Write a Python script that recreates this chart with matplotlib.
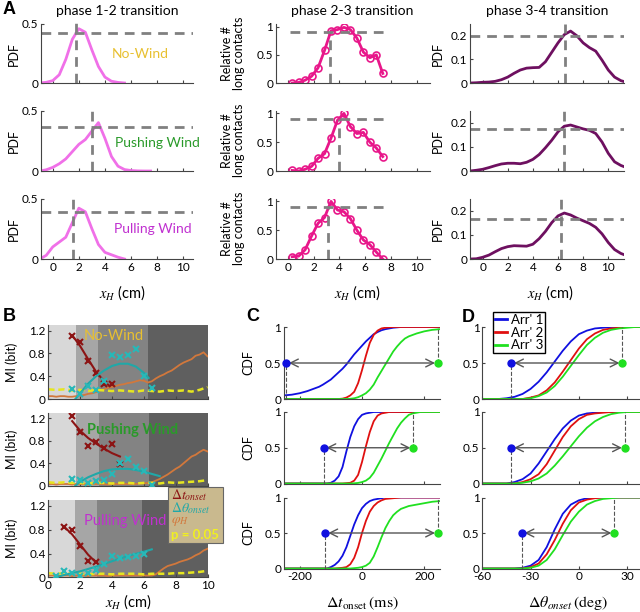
import numpy as np
import matplotlib
matplotlib.use('Agg')
import matplotlib.pyplot as plt
from matplotlib.lines import Line2D
from matplotlib.patches import Rectangle

plt.rcParams['font.family'] = ['Lato', 'DejaVu Sans']
plt.rcParams['mathtext.fontset'] = 'stix'
plt.rcParams['xtick.direction'] = 'in'
plt.rcParams['ytick.direction'] = 'in'
plt.rcParams['xtick.major.size'] = 2.5
plt.rcParams['ytick.major.size'] = 2.5
plt.rcParams['font.size'] = 8.5

# ---------------- panel A data ----------------
conditions = ["No-Wind", "Pushing Wind", "Pulling Wind"]
cond_colors = ["#e8c030", "#2a9a2a", "#c030d0"]

# phase 1-2 PDFs
p12_x = [[-1, -0.5, 0, 0.5, 1, 1.5, 2, 2.5, 3, 3.5, 4, 4.5, 5, 5.5],
         [-1, -0.5, 0, 0.5, 1, 1.5, 2, 2.5, 3, 3.5, 4, 4.5, 5, 5.5, 6, 6.5, 7, 7.5],
         [-1, -0.5, 0, 0.5, 1, 1.5, 2, 2.5, 3, 3.5, 4, 4.5, 5, 5.5]]
p12_y = [[0.0, 0.006, 0.02, 0.07, 0.2, 0.37, 0.46, 0.43, 0.28, 0.14, 0.05, 0.015, 0.005, 0.0],
         [0.0, 0.01, 0.03, 0.06, 0.1, 0.16, 0.22, 0.26, 0.33, 0.40, 0.27, 0.12, 0.04, 0.012, 0.004, 0.001, 0.0, 0.0],
         [0.0, 0.03, 0.1, 0.14, 0.18, 0.3, 0.42, 0.39, 0.25, 0.12, 0.055, 0.035, 0.015, 0.0]]
p12_vline = [1.8, 3.0, 1.55]
p12_hline = [0.42, 0.36, 0.39]

# phase 2-3 relative number of long contacts
p23_x = [0.35, 0.85, 1.35, 1.85, 2.35, 2.85, 3.35, 3.85, 4.35, 4.85, 5.35, 5.85, 6.35, 6.85, 7.35]
p23_y = [[0.0, 0.01, 0.05, 0.12, 0.27, 0.58, 0.93, 0.95, 0.99, 0.95, 0.8, 0.55, 0.45, 0.5, 0.17],
         [0.01, 0.0, 0.03, 0.08, 0.22, 0.3, 0.57, 0.88, 1.0, 0.77, 0.65, 0.67, 0.5, 0.4, 0.25],
         [0.04, 0.05, 0.16, 0.4, 0.62, 0.72, 1.0, 0.85, 0.82, 0.7, 0.5, 0.33, 0.25, 0.12, 0.0]]
p23_vline = [3.27, 4.0, 3.1]
p23_hline = 0.9

# phase 3-4 PDFs
p34_x = [-1, -0.5, 0, 0.5, 1, 1.5, 2, 2.5, 3, 3.5, 4, 4.5, 5, 5.5, 6, 6.5,
         7, 7.5, 8, 8.5, 9, 9.5, 10, 10.5, 11, 11.25]
p34_y = [[0.0, 0.001, 0.003, 0.004, 0.007, 0.014, 0.025, 0.041, 0.055, 0.063, 0.065, 0.066, 0.09,
          0.13, 0.17, 0.205, 0.22, 0.2, 0.17, 0.15, 0.135, 0.097, 0.055, 0.025, 0.01, 0.006],
         [0.0, 0.003, 0.007, 0.014, 0.022, 0.029, 0.032, 0.032, 0.03, 0.036, 0.048, 0.068, 0.096,
          0.127, 0.162, 0.185, 0.19, 0.182, 0.174, 0.168, 0.155, 0.12, 0.073, 0.038, 0.023, 0.018],
         [0.0, 0.001, 0.007, 0.016, 0.03, 0.043, 0.051, 0.055, 0.054, 0.053, 0.061, 0.084, 0.114,
          0.15, 0.178, 0.19, 0.182, 0.169, 0.158, 0.147, 0.131, 0.104, 0.068, 0.039, 0.023, 0.018]]
p34_vline = [6.55, 6.47, 6.2]
p34_hline = [0.2, 0.175, 0.165]

# ---------------- panel B data ----------------
band_edges = [[0, 1.75, 3.15, 6.25, 10], [0, 1.75, 3.2, 6.3, 10], [0, 1.7, 3.05, 5.9, 10]]
band_colors = ["#d8d8d8", "#a6a6a6", "#838383", "#5f5f5f"]

dt_x = [[1.5, 2, 2.5, 3, 3.5, 4], [1.5, 2, 2.5, 3, 3.5, 4, 4.5], [1, 1.5, 2, 2.5, 3]]
dt_y = [[1.1, 1.0, 0.67, 0.45, 0.26, 0.26], [1.25, 0.95, 0.7, 0.78, 0.68, 0.75, 0.38],
        [0.84, 0.8, 0.53, 0.27, 0.25]]
dt_fit_x = [[1.5, 2, 2.5, 3, 3.5, 3.8], [1.5, 2, 2.5, 3, 3.5, 4, 4.5], [1, 1.5, 2, 2.5, 3]]
dt_fit_y = [[1.12, 0.93, 0.7, 0.48, 0.31, 0.24], [1.15, 0.98, 0.85, 0.75, 0.66, 0.58, 0.52],
            [0.85, 0.72, 0.55, 0.38, 0.25]]

dth_x = [[1.5, 2, 2.5, 3, 3.5, 4, 4.5, 5, 5.5, 6, 6.5],
         [1.5, 2, 2.5, 3, 3.5, 4, 4.5, 5, 5.5, 6, 6.5],
         [0.5, 1, 1.5, 2, 2.5, 3, 3.5, 4, 4.5, 5, 5.5, 6]]
dth_y = [[0.17, 0.09, 0.23, 0.15, 0.31, 0.77, 0.74, 0.78, 0.87, 0.4, 0.2],
         [0.12, 0.1, 0.05, 0.08, 0.1, 0.2, 0.4, 0.48, 0.33, 0.27, 0.02],
         [0.02, 0.1, 0.07, 0.03, 0.08, 0.12, 0.22, 0.35, 0.32, 0.34, 0.35, 0.4]]
dth_fit_x = [[1.7, 2, 2.5, 3, 3.5, 4, 4.5, 5, 5.5, 6, 6.3],
             [1.7, 2, 2.5, 3, 3.5, 4, 4.5, 5, 5.5, 6, 6.5, 7],
             [0.5, 1, 2, 3, 4, 5, 6, 6.5]]
dth_fit_y = [[0.0, 0.1, 0.27, 0.4, 0.5, 0.58, 0.62, 0.62, 0.57, 0.46, 0.37],
             [0.0, 0.07, 0.15, 0.21, 0.26, 0.29, 0.3, 0.3, 0.28, 0.25, 0.21, 0.17],
             [0.0, 0.04, 0.1, 0.18, 0.27, 0.36, 0.43, 0.47]]

phi_x = [0, 0.25, 0.5, 0.75, 1, 1.25, 1.5, 1.75, 2, 2.25, 2.5, 2.75, 3, 3.25, 3.5, 3.75, 4,
         4.25, 4.5, 4.75, 5, 5.25, 5.5, 5.75, 6, 6.25, 6.5, 6.75, 7, 7.25, 7.5, 7.75, 8,
         8.25, 8.5, 8.75, 9, 9.25, 9.5, 9.75, 10]
phi_y = [[0.05, 0.05, 0.04, 0.05, 0.05, 0.04, 0.04, 0.05, 0.06, 0.07, 0.09, 0.10, 0.12, 0.15,
          0.17, 0.20, 0.21, 0.23, 0.25, 0.26, 0.28, 0.29, 0.31, 0.33, 0.32, 0.29, 0.31, 0.36,
          0.40, 0.43, 0.47, 0.50, 0.55, 0.60, 0.64, 0.67, 0.70, 0.76, 0.78, 0.82, 0.75],
         [0.03, 0.03, 0.02, 0.03, 0.03, 0.03, 0.02, 0.03, 0.03, 0.03, 0.02, 0.03, 0.03, 0.03,
          0.03, 0.02, 0.03, 0.03, 0.03, 0.03, 0.03, 0.03, 0.03, 0.04, 0.04, 0.05, 0.06, 0.09,
          0.12, 0.16, 0.20, 0.25, 0.30, 0.34, 0.40, 0.46, 0.52, 0.55, 0.60, 0.64, 0.61],
         [0.03, 0.03, 0.02, 0.03, 0.03, 0.03, 0.02, 0.03, 0.03, 0.03, 0.02, 0.03, 0.03, 0.03,
          0.03, 0.02, 0.03, 0.03, 0.03, 0.03, 0.03, 0.03, 0.03, 0.03, 0.03, 0.03, 0.03, 0.05,
          0.10, 0.15, 0.19, 0.21, 0.23, 0.26, 0.28, 0.30, 0.33, 0.37, 0.40, 0.45, 0.48]]

p05_x = [0, 0.5, 1, 1.5, 2, 2.5, 3, 3.5, 4, 4.5, 5, 5.5, 6, 6.5, 7, 7.5, 8, 8.5, 9, 9.5, 10]
p05_y = [[0.17, 0.16, 0.17, 0.15, 0.16, 0.14, 0.16, 0.15, 0.14, 0.15, 0.14, 0.13, 0.15, 0.14,
          0.13, 0.15, 0.14, 0.15, 0.13, 0.16, 0.21],
         [0.06, 0.05, 0.06, 0.05, 0.05, 0.04, 0.05, 0.05, 0.04, 0.05, 0.05, 0.04, 0.05, 0.05,
          0.04, 0.06, 0.05, 0.06, 0.07, 0.08, 0.10],
         [0.07, 0.06, 0.07, 0.06, 0.06, 0.05, 0.06, 0.06, 0.05, 0.06, 0.06, 0.06, 0.05, 0.06,
          0.06, 0.06, 0.07, 0.07, 0.08, 0.09, 0.11]]
b_label_pos = [(4.1, 1.1), (5.3, 1.0), (4.85, 0.95)]

# ---------------- panel C / D data ----------------
arr_labels = ["Arr' 1", "Arr' 2", "Arr' 3"]
arr_colors = ["#1010e0", "#e01010", "#20e020"]

cx = [-250, -237.5, -225, -212.5, -200, -187.5, -175, -162.5, -150, -137.5, -125, -112.5,
      -100, -87.5, -75, -62.5, -50, -37.5, -25, -12.5, 0, 12.5, 25, 37.5, 50, 62.5, 75, 87.5,
      100, 112.5, 125, 137.5, 150, 162.5, 175, 187.5, 200, 212.5, 225, 237.5, 250]
c_cdf = [
    [[0.05, 0.055, 0.06, 0.07, 0.08, 0.095, 0.11, 0.13, 0.15, 0.17, 0.2, 0.235, 0.27, 0.32,
      0.37, 0.42, 0.48, 0.55, 0.62, 0.68, 0.74, 0.8, 0.85, 0.9, 0.93, 0.955, 0.97, 0.98, 0.99,
      0.995, 1, 1, 1, 1, 1, 1, 1, 1, 1, 1, 1],
     [0, 0, 0, 0, 0, 0, 0, 0, 0, 0, 0, 0, 0, 0, 0, 0.005, 0.02, 0.05, 0.1, 0.22, 0.4, 0.6,
      0.78, 0.89, 0.95, 0.98, 0.99, 0.995, 1, 1, 1, 1, 1, 1, 1, 1, 1, 1, 1, 1, 1],
     [0, 0, 0, 0, 0, 0, 0, 0, 0, 0, 0, 0, 0, 0, 0, 0, 0, 0.003, 0.01, 0.025, 0.05, 0.08, 0.13,
      0.2, 0.3, 0.39, 0.48, 0.57, 0.66, 0.73, 0.79, 0.84, 0.87, 0.89, 0.91, 0.925, 0.94, 0.95,
      0.96, 0.965, 0.97]],
    [[0, 0, 0, 0, 0, 0, 0, 0, 0, 0, 0, 0, 0.01, 0.04, 0.1, 0.23, 0.45, 0.65, 0.8, 0.9, 0.96,
      0.98, 0.99, 1, 1, 1, 1, 1, 1, 1, 1, 1, 1, 1, 1, 1, 1, 1, 1, 1, 1],
     [0, 0, 0, 0, 0, 0, 0, 0, 0, 0, 0, 0, 0, 0, 0, 0, 0.005, 0.01, 0.04, 0.12, 0.3, 0.52,
      0.72, 0.87, 0.95, 0.98, 0.99, 1, 1, 1, 1, 1, 1, 1, 1, 1, 1, 1, 1, 1, 1],
     [0, 0, 0, 0, 0, 0, 0, 0, 0, 0, 0, 0, 0, 0, 0, 0, 0, 0, 0.003, 0.008, 0.02, 0.04, 0.08,
      0.15, 0.25, 0.35, 0.46, 0.57, 0.67, 0.77, 0.85, 0.91, 0.96, 0.98, 0.99, 1, 1, 1, 1, 1, 1]],
    [[0, 0, 0, 0, 0, 0, 0, 0, 0, 0, 0, 0, 0.02, 0.05, 0.1, 0.18, 0.3, 0.46, 0.62, 0.75, 0.85,
      0.91, 0.95, 0.97, 0.98, 0.99, 1, 1, 1, 1, 1, 1, 1, 1, 1, 1, 1, 1, 1, 1, 1],
     [0, 0, 0, 0, 0, 0, 0, 0, 0, 0, 0, 0, 0, 0, 0.005, 0.01, 0.02, 0.06, 0.15, 0.3, 0.5, 0.67,
      0.8, 0.88, 0.93, 0.96, 0.98, 0.985, 0.99, 0.995, 1, 1, 1, 1, 1, 1, 1, 1, 1, 1, 1],
     [0, 0, 0, 0, 0, 0, 0, 0, 0, 0, 0, 0, 0, 0, 0, 0, 0, 0, 0.005, 0.01, 0.02, 0.04, 0.08,
      0.17, 0.3, 0.44, 0.57, 0.67, 0.75, 0.8, 0.84, 0.86, 0.88, 0.89, 0.9, 0.91, 0.92, 0.93,
      0.94, 0.945, 0.95]]]
c_range = [(-243, 243), (-123, 164), (-117, 243)]

dx = [-60, -55, -50, -45, -40, -35, -30, -25, -20, -15, -10, -5, 0, 5, 10, 15, 20, 25, 30, 35, 38]
d_cdf = [
    [[0, 0, 0, 0.01, 0.03, 0.07, 0.14, 0.24, 0.37, 0.52, 0.67, 0.8, 0.9, 0.95, 0.98, 0.99, 1, 1, 1, 1, 1],
     [0, 0, 0, 0, 0, 0, 0.02, 0.05, 0.12, 0.23, 0.38, 0.54, 0.7, 0.83, 0.91, 0.96, 0.98, 0.99, 1, 1, 1],
     [0, 0, 0, 0, 0, 0, 0.01, 0.04, 0.09, 0.18, 0.31, 0.46, 0.61, 0.75, 0.85, 0.92, 0.96, 0.98, 0.99, 1, 1]],
    [[0, 0, 0, 0, 0.02, 0.06, 0.14, 0.28, 0.45, 0.62, 0.77, 0.88, 0.95, 0.98, 0.99, 1, 1, 1, 1, 1, 1],
     [0, 0, 0, 0, 0, 0.02, 0.06, 0.13, 0.27, 0.46, 0.65, 0.8, 0.9, 0.96, 0.98, 0.99, 1, 1, 1, 1, 1],
     [0, 0, 0, 0, 0, 0.01, 0.03, 0.07, 0.14, 0.25, 0.38, 0.52, 0.66, 0.78, 0.87, 0.93, 0.97, 0.99, 1, 1, 1]],
    [[0, 0, 0, 0, 0, 0.01, 0.04, 0.12, 0.3, 0.55, 0.77, 0.9, 0.96, 0.99, 1, 1, 1, 1, 1, 1, 1],
     [0, 0, 0, 0, 0, 0, 0.02, 0.07, 0.2, 0.4, 0.63, 0.82, 0.93, 0.97, 0.99, 1, 1, 1, 1, 1, 1],
     [0, 0, 0, 0, 0, 0, 0.01, 0.04, 0.12, 0.27, 0.47, 0.66, 0.8, 0.9, 0.95, 0.98, 0.99, 1, 1, 1, 1]]]
d_range = [(-42, 27), (-42, 28.5), (-35.5, 22)]

# ---------------- figure ----------------
W, H = 640, 612
fig = plt.figure(figsize=(W / 100, H / 100), dpi=100)


def box(l, t, r, b):
    return fig.add_axes([l / W, 1 - b / H, (r - l) / W, (b - t) / H])


def style(ax):
    for s in ['top', 'right']:
        ax.spines[s].set_visible(False)
    for s in ['left', 'bottom']:
        ax.spines[s].set_color('#444444')
    ax.tick_params(colors='#444444', labelcolor='black', pad=2)


def ftext(x, y, s, **kw):
    fig.text(x / W, 1 - y / H, s, **kw)


a_rows = [(24, 83), (110.5, 171), (198.5, 259)]
dash = dict(color='#808080', lw=2, dashes=(3.5, 2.5))
xt = [0, 2, 4, 6, 8, 10]

for i, (t, b) in enumerate(a_rows):
    # column 1
    ax = box(41, t, 193, b)
    style(ax)
    ax.plot(p12_x[i], p12_y[i], color='#f070e8', lw=2)
    ax.axhline(p12_hline[i], **dash)
    ax.axvline(p12_vline[i], ymax=1.04, clip_on=False, **dash)
    ax.set_xlim(-0.9, 10.75)
    ax.set_ylim(0, 0.5)
    ax.set_yticks([0, 0.5], ['0', '0.5'])
    ax.set_xticks(xt, [str(v) for v in xt] if i == 2 else [])
    ax.text([6.7, 8.0, 7.7][i], [0.25, 0.23, 0.245][i], conditions[i], color=cond_colors[i],
            fontsize=10, ha='center', va='center')
    ftext(14, (t + b) / 2, 'PDF', rotation=90, ha='center', va='center', fontsize=9)

    # column 2
    ax = box(276, t, 430, b)
    style(ax)
    ax.plot(p23_x, p23_y[i], color='#e8178a', lw=2, marker='o', mfc='none', ms=5, mew=1.2)
    ax.plot([0.2, 7.6], [p23_hline, p23_hline], **dash)
    ax.plot([p23_vline[i], p23_vline[i]], [0, p23_hline], **dash)
    ax.set_xlim(-0.9, 11)
    ax.set_ylim(0, 1.05)
    ax.set_yticks([0, 0.5, 1], ['0', '0.5', '1'])
    ax.set_xticks(xt, [str(v) for v in xt] if i == 2 else [])
    ftext(233, (t + b) / 2, 'Relative #\nlong contacts', rotation=90, ha='center',
          va='center', fontsize=9, linespacing=1.0)

    # column 3
    ax = box(470, t, 624, b)
    style(ax)
    ax.plot(p34_x, p34_y[i], color='#6e1060', lw=2)
    ax.axhline(p34_hline[i], **dash)
    ax.axvline(p34_vline[i], **dash)
    ax.set_xlim(-1, 11.25)
    ax.set_ylim(0, 0.25)
    ax.set_yticks([0, 0.1, 0.2], ['0', '0.1', '0.2'])
    ax.set_xticks(xt, [str(v) for v in xt] if i == 2 else [])
    ftext(438, (t + b) / 2, 'PDF', rotation=90, ha='center', va='center', fontsize=9)

for cx_, s in zip([117, 352, 547], ['phase 1-2 transition', 'phase 2-3 transition',
                                     'phase 3-4 transition']):
    ftext(cx_, 11, s, ha='center', va='center', fontsize=10)
for cx_ in [122, 357, 550]:
    ftext(cx_, 293, r'$x_H$ (cm)', ha='center', va='center', fontsize=10.5)

# panel B
b_rows = [(325, 399), (412.7, 485.7), (500, 577.3)]
for i, (t, b) in enumerate(b_rows):
    ax = box(48.3, t, 207.5, b)
    style(ax)
    e = band_edges[i]
    for k in range(4):
        ax.axvspan(e[k], e[k + 1], color=band_colors[k], lw=0, zorder=0)
    ax.plot(phi_x, phi_y[i], color='#d2783c', lw=1.3, zorder=2)
    ax.plot(p05_x, p05_y[i], color='#e6e620', lw=1.8, dashes=(2.5, 1.5), zorder=2)
    ax.plot(dt_fit_x[i], dt_fit_y[i], color='#8c1414', lw=1.5, zorder=3)
    ax.plot(dt_x[i], dt_y[i], 'x', color='#8c1414', ms=5, mew=1.5, zorder=3)
    ax.plot(dth_fit_x[i], dth_fit_y[i], color='#20a8a8', lw=1.5, zorder=3)
    ax.plot(dth_x[i], dth_y[i], 'x', color='#28b8b8', ms=5, mew=1.5, zorder=3)
    ax.set_xlim(0, 10)
    ax.set_ylim(0, 1.3)
    ax.set_yticks([0, 0.4, 0.8, 1.2], ['0', '0.4', '0.8', '1.2'])
    ax.set_xticks(xt, [str(v) for v in xt] if i == 2 else [])
    bx, by = b_label_pos[i]
    ax.text(bx, by, conditions[i], color=cond_colors[i], fontsize=10.5, ha='center',
            va='center', fontweight='bold' if i == 1 else 'normal', zorder=4)
    ftext(12, (t + b) / 2, 'MI (bit)', rotation=90, ha='center', va='center', fontsize=9)
ftext(128, 602, r'$x_H$ (cm)', ha='center', va='center', fontsize=10.5)

leg = Rectangle((168 / W, 1 - 543 / H), 55 / W, 56 / H, transform=fig.transFigure,
                facecolor='#c9b98e', edgecolor='#666666', lw=0.8, zorder=10)
fig.patches.append(leg)
ftext(171, 495, r'$\Delta t_{onset}$', color='#8c1414', va='center', fontsize=10, zorder=11)
ftext(171, 508, r'$\Delta\theta_{onset}$', color='#20a8a8', va='center', fontsize=10, zorder=11)
ftext(171, 521, r'$\varphi_H$', color='#d2783c', va='center', fontsize=10, zorder=11)
ftext(171, 535, 'p = 0.05', color='#f0f020', va='center', fontsize=9.5, fontweight='bold',
      zorder=11)

# panels C and D
cd_rows = [(327, 399), (412, 483.5), (497.5, 568.5)]


def cdf_panel(ax, xs, curves, rng, xlim):
    style(ax)
    for c, col in zip(curves, arr_colors):
        ax.plot(xs, c, color=col, lw=1.3)
    lo, hi = rng
    ax.plot([lo, lo], [0, 0.5], color='#555555', lw=0.8, ls='--')
    ax.plot([hi, hi], [0.5, 1], color='#555555', lw=0.8, ls='--')
    ax.annotate('', xy=(hi, 0.5), xytext=(lo, 0.5),
                arrowprops=dict(arrowstyle='<->', color='#555555', lw=1, mutation_scale=14,
                                shrinkA=2, shrinkB=2))
    ax.plot([lo], [0.5], 'o', color=arr_colors[0], ms=5, clip_on=False, zorder=5)
    ax.plot([hi], [0.5], 'o', color=arr_colors[2], ms=5, clip_on=False, zorder=5)
    ax.set_xlim(*xlim)
    ax.set_ylim(0, 1)
    ax.set_yticks([0, 0.5, 1], ['0', '0.5', '1'])


for i, (t, b) in enumerate(cd_rows):
    ax = box(284, t, 440, b)
    cdf_panel(ax, cx, c_cdf[i], c_range[i], (-250, 250))
    ax.set_xticks([-200, 0, 200], ['-200', '0', '200'] if i == 2 else [])
    ftext(248, (t + b) / 2, 'CDF', rotation=90, ha='center', va='center', fontsize=9)

    ax = box(482.3, t, 640, b)
    cdf_panel(ax, dx, d_cdf[i], d_range[i], (-60, 38))
    ax.set_xticks([-60, -30, 0, 30], ['-60', '-30', '0', '30'] if i == 2 else [])

ftext(362, 603, r'$\Delta t_{\mathrm{onset}}\,\mathrm{(ms)}$', ha='center', va='center',
      fontsize=11.5)
ftext(568, 603, r'$\Delta\theta_{onset}\,\mathrm{(deg)}$', ha='center', va='center',
      fontsize=11.5)

handles = [Line2D([], [], color=c, lw=2) for c in arr_colors]
fig.legend(handles, arr_labels, loc='upper left', bbox_to_anchor=(493 / W, 1 - 312 / H),
           fontsize=9.5, frameon=True, fancybox=False, edgecolor='black', framealpha=1,
           handlelength=0.9, handletextpad=0.3, labelspacing=0.05, borderpad=0.15,
           borderaxespad=0)

# panel letters
for s, x, y in [('A', 3, 9), ('B', 3, 316), ('C', 246, 316), ('D', 462, 318)]:
    ftext(x, y, s, fontsize=13, fontweight='bold', va='center', ha='left',
          family=['Liberation Sans', 'DejaVu Sans'])

fig.savefig('out.png', dpi=100)
